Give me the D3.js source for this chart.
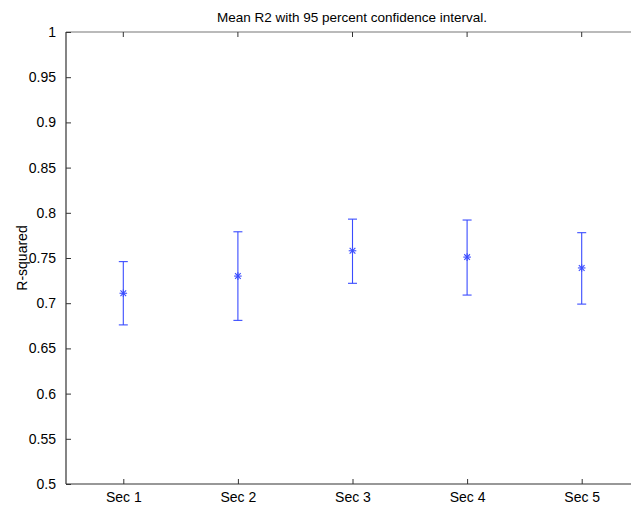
<!DOCTYPE html>
<html>
<head>
<meta charset="utf-8">
<script src="https://cdn.jsdelivr.net/npm/d3@7"></script>
<style>
  html, body { margin: 0; padding: 0; background: #fff; }
  svg { display: block; font-family: "Liberation Sans", Arial, Helvetica, sans-serif; }
</style>
</head>
<body>
<svg id="chart" width="631" height="508"></svg>
<script>
const categories = ["Sec 1", "Sec 2", "Sec 3", "Sec 4", "Sec 5"];
const means = [0.711, 0.730, 0.758, 0.751, 0.739];
const lower = [0.676, 0.681, 0.722, 0.709, 0.699];
const upper = [0.746, 0.779, 0.793, 0.792, 0.778];
const yTicks = [0.5, 0.55, 0.6, 0.65, 0.7, 0.75, 0.8, 0.85, 0.9, 0.95, 1];
const titleText = "Mean R2 with 95 percent confidence interval.";
const yLabel = "R-squared";

(function () {
const svg = d3.select("#chart");
const pLeft = 66, pTop = 32, pBottom = 484, pRight = 639;

const x = d3.scaleLinear().domain([0.5, categories.length + 0.5]).range([pLeft, pRight]);
const y = d3.scaleLinear().domain([0.5, 1]).range([pBottom, pTop]);

const axisColor = "#333";
const tickLen = 5;

// Box lines
svg.append("line").attr("x1", pLeft).attr("x2", pRight).attr("y1", pTop).attr("y2", pTop)
  .attr("stroke", "#777").attr("stroke-width", 1.2);
svg.append("line").attr("x1", pLeft).attr("x2", pRight).attr("y1", pBottom).attr("y2", pBottom)
  .attr("stroke", axisColor).attr("stroke-width", 1.2);
svg.append("line").attr("x1", pLeft).attr("x2", pLeft).attr("y1", pTop).attr("y2", pBottom)
  .attr("stroke", axisColor).attr("stroke-width", 1.2);

// Y axis (inward ticks)
const yAxis = d3.axisLeft(y).tickValues(yTicks).tickSize(-tickLen).tickPadding(tickLen + 5)
  .tickFormat(d => d3.format("")(+d.toFixed(2)));
const gy = svg.append("g").attr("transform", `translate(${pLeft},0)`).call(yAxis);
gy.select(".domain").remove();
gy.selectAll(".tick line").attr("stroke", axisColor);
gy.selectAll(".tick text").attr("font-size", 14).attr("fill", "#000")
  .attr("font-family", "Liberation Sans, Arial, sans-serif");

// X axis (inward ticks)
const xAxis = d3.axisBottom(x).tickValues(d3.range(1, categories.length + 1))
  .tickSize(-tickLen).tickPadding(8).tickFormat(d => categories[d - 1]);
const gx = svg.append("g").attr("transform", `translate(0,${pBottom})`).call(xAxis);
gx.select(".domain").remove();
gx.selectAll(".tick line").attr("stroke", axisColor);
gx.selectAll(".tick text").attr("font-size", 14).attr("fill", "#000")
  .attr("font-family", "Liberation Sans, Arial, sans-serif");

// Top ticks (inward)
svg.append("g").selectAll("line").data(d3.range(1, categories.length + 1)).join("line")
  .attr("x1", d => x(d)).attr("x2", d => x(d))
  .attr("y1", pTop).attr("y2", pTop + tickLen)
  .attr("stroke", axisColor);

// Error bars
const blue = "#3a4cff";
const capHalf = 4.5;
const g = svg.append("g").attr("stroke", blue).attr("stroke-width", 1.1).attr("fill", "none");
categories.forEach((c, i) => {
  const cx = x(i + 1);
  g.append("line").attr("x1", cx).attr("x2", cx).attr("y1", y(lower[i])).attr("y2", y(upper[i]));
  g.append("line").attr("x1", cx - capHalf).attr("x2", cx + capHalf).attr("y1", y(lower[i])).attr("y2", y(lower[i]));
  g.append("line").attr("x1", cx - capHalf).attr("x2", cx + capHalf).attr("y1", y(upper[i])).attr("y2", y(upper[i]));
  const cy = y(means[i]);
  const r = 3.8;
  g.append("line").attr("x1", cx - r).attr("x2", cx + r).attr("y1", cy).attr("y2", cy);
  g.append("line").attr("x1", cx).attr("x2", cx).attr("y1", cy - r).attr("y2", cy + r);
  const d = r * 0.75;
  g.append("line").attr("x1", cx - d).attr("x2", cx + d).attr("y1", cy - d).attr("y2", cy + d);
  g.append("line").attr("x1", cx - d).attr("x2", cx + d).attr("y1", cy + d).attr("y2", cy - d);
});

// Title
svg.append("text").attr("x", 352).attr("y", 22).attr("text-anchor", "middle")
  .attr("font-size", 13.5).attr("fill", "#000").text(titleText);

// Y label
svg.append("text").attr("transform", `translate(27,${(pTop + pBottom) / 2}) rotate(-90)`)
  .attr("text-anchor", "middle").attr("font-size", 14).attr("fill", "#000").text(yLabel);
})();
</script>
</body>
</html>
